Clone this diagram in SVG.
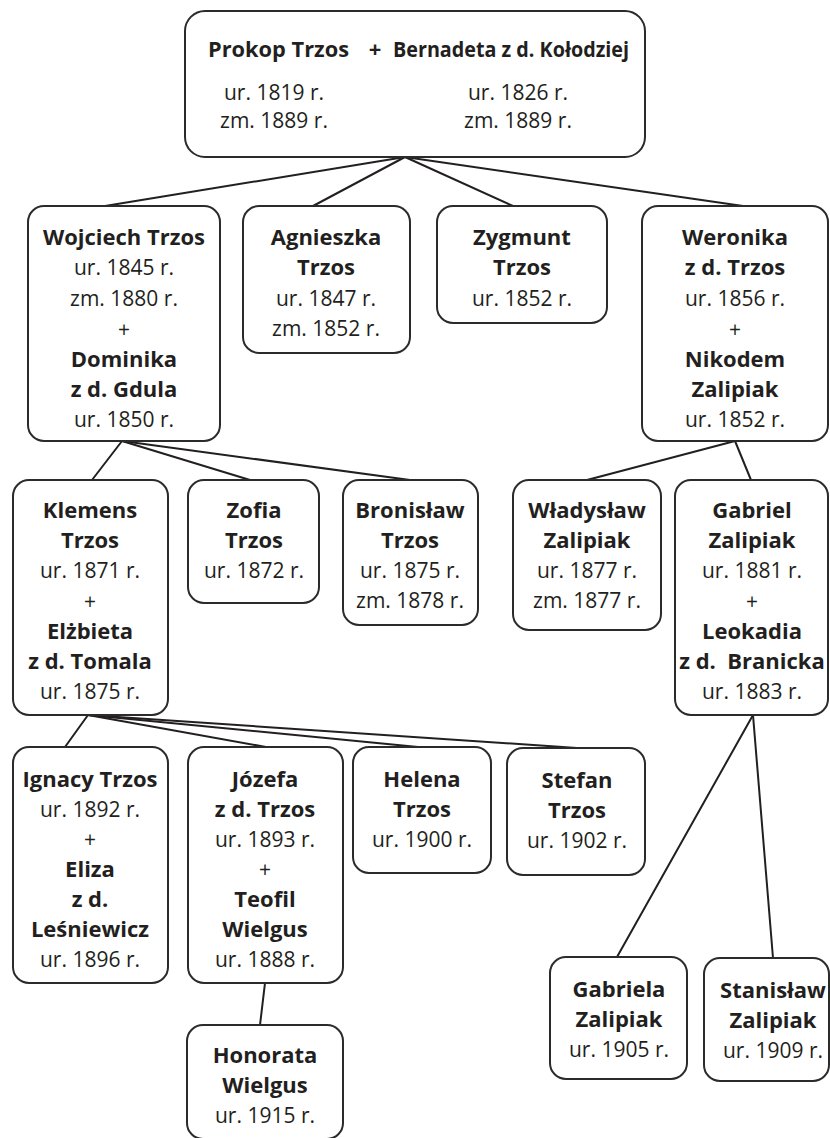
<svg xmlns="http://www.w3.org/2000/svg" width="830" height="1138" viewBox="0 0 830 1138">
<style>
.box{fill:#fff;stroke:#2b2b2b;stroke-width:2}
text{font-family:"Open Sans","Noto Sans",sans-serif;fill:#231f20;text-anchor:middle}
.b{font-weight:700;font-size:22px}
.r{font-weight:400;font-size:21px}
.links line{stroke:#231f20;stroke-width:2;stroke-linecap:round}
</style>
<rect width="830" height="1138" fill="#fff"/>
<g class="links">
<line x1="405" y1="157" x2="105" y2="206"/>
<line x1="405" y1="157" x2="313" y2="206"/>
<line x1="405" y1="157" x2="513" y2="206"/>
<line x1="405" y1="157" x2="743" y2="206"/>
<line x1="122" y1="441" x2="92" y2="480"/>
<line x1="122" y1="441" x2="250" y2="480"/>
<line x1="122" y1="441" x2="410" y2="480"/>
<line x1="735" y1="441" x2="587" y2="480"/>
<line x1="735" y1="441" x2="751" y2="480"/>
<line x1="88" y1="715" x2="65" y2="747"/>
<line x1="88" y1="715" x2="266" y2="747"/>
<line x1="88" y1="715" x2="418" y2="747"/>
<line x1="88" y1="715" x2="577" y2="748"/>
<line x1="753" y1="715" x2="617" y2="957"/>
<line x1="753" y1="715" x2="773" y2="958"/>
<line x1="265" y1="983" x2="260" y2="1025"/>
</g>
<g id="prokop">
<rect class="box" x="185" y="11" width="460" height="146" rx="20"/>
<text class="b" x="208" y="57" style="text-anchor:start" textLength="141" lengthAdjust="spacingAndGlyphs">Prokop Trzos</text>
<text class="b" x="375" y="57">+</text>
<text class="b" x="393" y="57" style="text-anchor:start" textLength="236" lengthAdjust="spacingAndGlyphs">Bernadeta z d. Kołodziej</text>
<text class="r" x="274" y="100">ur. 1819 r.</text>
<text class="r" x="274" y="128">zm. 1889 r.</text>
<text class="r" x="518" y="100">ur. 1826 r.</text>
<text class="r" x="518" y="128">zm. 1889 r.</text>
</g>
<g id="wojciech">
<rect class="box" x="28" y="206" width="192" height="235" rx="16"/>
<text class="b" x="124" y="245">Wojciech Trzos</text>
<text class="r" x="124" y="275">ur. 1845 r.</text>
<text class="r" x="124" y="306">zm. 1880 r.</text>
<text class="r" x="124" y="337">+</text>
<text class="b" x="124" y="367">Dominika</text>
<text class="b" x="124" y="397">z d. Gdula</text>
<text class="r" x="124" y="427">ur. 1850 r.</text>
</g>
<g id="agnieszka">
<rect class="box" x="243" y="206" width="167" height="147" rx="16"/>
<text class="b" x="326" y="245">Agnieszka</text>
<text class="b" x="326" y="275">Trzos</text>
<text class="r" x="326" y="306">ur. 1847 r.</text>
<text class="r" x="326" y="336">zm. 1852 r.</text>
</g>
<g id="zygmunt">
<rect class="box" x="437" y="206" width="170" height="117" rx="16"/>
<text class="b" x="522" y="245">Zygmunt</text>
<text class="b" x="522" y="275">Trzos</text>
<text class="r" x="522" y="306">ur. 1852 r.</text>
</g>
<g id="weronika">
<rect class="box" x="642" y="206" width="186" height="235" rx="16"/>
<text class="b" x="735" y="245">Weronika</text>
<text class="b" x="735" y="275">z d. Trzos</text>
<text class="r" x="735" y="306">ur. 1856 r.</text>
<text class="r" x="735" y="337">+</text>
<text class="b" x="735" y="367">Nikodem</text>
<text class="b" x="735" y="397">Zalipiak</text>
<text class="r" x="735" y="427">ur. 1852 r.</text>
</g>
<g id="klemens">
<rect class="box" x="13" y="480" width="155" height="235" rx="16"/>
<text class="b" x="90" y="518">Klemens</text>
<text class="b" x="90" y="548">Trzos</text>
<text class="r" x="90" y="578">ur. 1871 r.</text>
<text class="r" x="90" y="609">+</text>
<text class="b" x="90" y="639">Elżbieta</text>
<text class="b" x="90" y="669">z d. Tomala</text>
<text class="r" x="90" y="699">ur. 1875 r.</text>
</g>
<g id="zofia">
<rect class="box" x="188" y="480" width="131" height="123" rx="16"/>
<text class="b" x="254" y="518">Zofia</text>
<text class="b" x="254" y="548">Trzos</text>
<text class="r" x="254" y="578">ur. 1872 r.</text>
</g>
<g id="bronislaw">
<rect class="box" x="343" y="480" width="135" height="145" rx="16"/>
<text class="b" x="410" y="518">Bronisław</text>
<text class="b" x="410" y="548">Trzos</text>
<text class="r" x="410" y="578">ur. 1875 r.</text>
<text class="r" x="410" y="608">zm. 1878 r.</text>
</g>
<g id="wladyslaw">
<rect class="box" x="513" y="480" width="148" height="150" rx="16"/>
<text class="b" x="587" y="518">Władysław</text>
<text class="b" x="587" y="548">Zalipiak</text>
<text class="r" x="587" y="578">ur. 1877 r.</text>
<text class="r" x="587" y="608">zm. 1877 r.</text>
</g>
<g id="gabriel">
<rect class="box" x="675" y="480" width="153" height="235" rx="16"/>
<text class="b" x="752" y="518">Gabriel</text>
<text class="b" x="752" y="548">Zalipiak</text>
<text class="r" x="752" y="578">ur. 1881 r.</text>
<text class="r" x="752" y="609">+</text>
<text class="b" x="752" y="639">Leokadia</text>
<text class="b" x="752" y="669" xml:space="preserve">z d.  Branicka</text>
<text class="r" x="752" y="699">ur. 1883 r.</text>
</g>
<g id="ignacy">
<rect class="box" x="13" y="747" width="155" height="236" rx="16"/>
<text class="b" x="90" y="787">Ignacy Trzos</text>
<text class="r" x="90" y="817">ur. 1892 r.</text>
<text class="r" x="90" y="847">+</text>
<text class="b" x="90" y="877">Eliza</text>
<text class="b" x="90" y="907">z d.</text>
<text class="b" x="90" y="937">Leśniewicz</text>
<text class="r" x="90" y="967">ur. 1896 r.</text>
</g>
<g id="jozefa">
<rect class="box" x="188" y="747" width="155" height="236" rx="16"/>
<text class="b" x="265" y="787">Józefa</text>
<text class="b" x="265" y="817">z d. Trzos</text>
<text class="r" x="265" y="847">ur. 1893 r.</text>
<text class="r" x="265" y="877">+</text>
<text class="b" x="265" y="907">Teofil</text>
<text class="b" x="265" y="937">Wielgus</text>
<text class="r" x="265" y="967">ur. 1888 r.</text>
</g>
<g id="helena">
<rect class="box" x="353" y="747" width="138" height="126" rx="16"/>
<text class="b" x="422" y="787">Helena</text>
<text class="b" x="422" y="817">Trzos</text>
<text class="r" x="422" y="847">ur. 1900 r.</text>
</g>
<g id="stefan">
<rect class="box" x="507" y="748" width="138" height="127" rx="16"/>
<text class="b" x="577" y="788">Stefan</text>
<text class="b" x="577" y="818">Trzos</text>
<text class="r" x="577" y="848">ur. 1902 r.</text>
</g>
<g id="honorata">
<rect class="box" x="187" y="1025" width="156" height="114" rx="16"/>
<text class="b" x="265" y="1063">Honorata</text>
<text class="b" x="265" y="1093">Wielgus</text>
<text class="r" x="265" y="1123">ur. 1915 r.</text>
</g>
<g id="gabriela">
<rect class="box" x="550" y="957" width="137" height="122" rx="16"/>
<text class="b" x="619" y="997">Gabriela</text>
<text class="b" x="619" y="1027">Zalipiak</text>
<text class="r" x="619" y="1057">ur. 1905 r.</text>
</g>
<g id="stanislaw">
<rect class="box" x="704" y="958" width="125" height="123" rx="16"/>
<text class="b" x="773" y="998">Stanisław</text>
<text class="b" x="773" y="1028">Zalipiak</text>
<text class="r" x="773" y="1058">ur. 1909 r.</text>
</g>
</svg>
